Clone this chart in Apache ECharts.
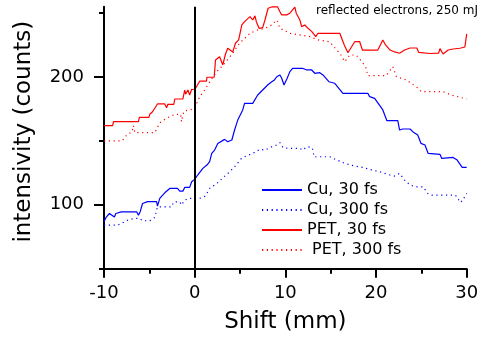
<!DOCTYPE html>
<html>
<head>
<meta charset="utf-8">
<script src="https://cdn.jsdelivr.net/npm/echarts@6/dist/echarts.min.js"></script>
<style>
html,body{margin:0;padding:0;background:#fff;}
#chart{width:481px;height:337px;}
</style>
</head>
<body>
<div id="chart"></div>
<script>
var seriesNames = ['Cu, 30 fs', 'Cu, 300 fs', 'PET, 30 fs', ' PET, 300 fs'];
var xTicks = [-10, 0, 10, 20, 30];
var yLabelTicks = [100, 200];
var yMinorTicks = [50, 150, 250];

var cu30 = [[-10.0,86.7],[-9.75,90.4],[-9.4,93.2],[-8.85,90.4],[-8.7,93.2],[-8.1,94.5],[-6.4,94.5],[-6.2,91.9],[-6.0,94.8],[-5.75,101.0],[-5.2,102.5],[-4.2,102.5],[-4.1,99.0],[-3.85,105.0],[-3.3,109.4],[-2.75,112.8],[-1.9,112.8],[-1.65,110.7],[-1.3,110.7],[-1.1,113.6],[-0.55,113.6],[-0.33,118.0],[0.0,119.9],[0.33,123.3],[0.9,128.5],[1.35,131.1],[1.65,133.7],[1.88,140.2],[2.2,142.8],[2.55,148.0],[3.3,151.2],[3.65,149.3],[4.1,150.7],[4.4,158.5],[4.75,166.3],[5.3,174.2],[5.5,179.4],[6.4,179.4],[6.95,185.9],[7.5,189.8],[8.05,193.7],[8.5,196.3],[8.8,197.7],[9.05,200.2],[9.4,201.6],[9.6,199.0],[9.85,193.7],[10.2,199.0],[10.5,204.2],[10.8,206.8],[11.9,206.8],[12.35,205.5],[12.9,205.5],[13.25,202.9],[13.8,203.4],[14.15,201.6],[14.8,196.3],[15.45,195.1],[16.35,187.2],[19.1,187.2],[19.3,184.6],[19.85,183.3],[20.75,174.2],[21.2,165.8],[22.4,165.8],[22.6,158.5],[22.95,159.3],[23.75,159.3],[24.05,157.2],[24.6,154.6],[24.95,148.1],[25.4,146.8],[25.75,140.2],[27.05,139.5],[27.25,136.3],[28.5,137.1],[28.95,135.0],[29.5,129.3],[30.0,129.3]];

var cu300 = [[-10.0,84.1],[-8.5,84.1],[-7.95,85.9],[-7.2,88.6],[-6.4,89.4],[-6.1,89.4],[-5.75,87.5],[-4.95,87.5],[-4.4,90.1],[-4.2,91.1],[-4.1,98.4],[-2.55,98.4],[-2.3,102.3],[-1.65,102.3],[-1.45,99.8],[-1.1,103.7],[-0.55,105.0],[0.55,105.0],[1.1,106.5],[1.35,108.9],[1.65,112.8],[2.45,116.8],[3.1,121.0],[3.85,125.8],[4.5,130.5],[5.15,136.3],[5.5,137.6],[6.4,140.2],[7.2,143.4],[7.75,142.8],[8.5,145.4],[9.05,146.8],[9.4,148.6],[9.75,144.6],[10.3,144.2],[11.6,144.2],[11.9,142.8],[12.35,145.4],[12.9,145.0],[13.05,142.8],[13.15,137.6],[14.9,137.6],[15.7,135.0],[16.55,132.4],[17.65,130.3],[18.55,129.3],[19.3,127.7],[20.4,125.8],[21.55,123.3],[22.05,122.5],[22.6,124.6],[23.15,119.3],[23.75,115.4],[24.5,114.1],[25.2,114.1],[25.75,108.4],[26.15,107.6],[28.7,107.6],[28.95,106.3],[29.25,101.9],[29.5,103.0],[30.0,108.9]];

var pet30 = [[-10.0,161.9],[-9.05,161.9],[-8.95,165.0],[-6.2,165.0],[-6.1,168.4],[-5.05,168.4],[-4.95,170.8],[-4.65,172.8],[-4.1,178.9],[-3.3,178.9],[-3.1,176.0],[-2.95,178.6],[-2.3,178.6],[-2.2,182.8],[-1.3,182.8],[-1.1,189.8],[-1.0,186.5],[-0.75,189.8],[-0.55,185.9],[-0.33,190.4],[0.0,190.0],[0.55,196.7],[1.3,196.7],[1.35,199.8],[2.15,199.8],[2.3,213.3],[2.75,215.9],[3.1,209.4],[3.4,218.0],[3.65,222.5],[4.2,219.6],[4.5,226.4],[4.85,229.0],[5.2,240.7],[5.5,243.3],[6.1,247.2],[6.4,244.6],[6.65,247.8],[6.8,243.3],[7.1,238.1],[7.5,238.6],[7.75,244.6],[8.1,253.8],[8.5,254.8],[9.15,254.8],[9.4,251.1],[9.6,248.6],[10.15,248.6],[10.5,249.9],[11.05,254.6],[11.2,249.9],[11.6,244.6],[11.8,239.4],[12.15,240.7],[12.5,238.1],[12.9,235.7],[13.05,234.2],[13.35,231.6],[13.6,234.2],[16.0,234.2],[16.5,225.0],[16.9,219.0],[17.1,218.6],[17.65,227.6],[18.2,227.6],[18.5,221.1],[20.2,221.1],[20.75,229.0],[21.05,225.1],[21.55,221.1],[22.05,219.6],[22.6,218.6],[23.15,221.1],[23.75,222.7],[24.5,222.7],[24.7,219.3],[25.95,218.4],[26.9,218.6],[27.05,222.2],[27.4,218.0],[27.95,221.1],[28.5,221.9],[29.25,222.5],[29.8,223.5],[30.0,233.7]];

var pet300 = [[-10.0,150.0],[-8.0,150.0],[-7.5,154.6],[-6.9,157.2],[-6.75,162.0],[-6.6,156.4],[-4.4,156.4],[-3.85,164.2],[-3.1,167.7],[-2.2,170.8],[-1.55,170.8],[-1.45,165.0],[-1.3,170.8],[-1.1,173.6],[-0.55,174.2],[0.0,175.5],[0.55,184.6],[1.1,189.8],[1.65,196.0],[2.3,203.0],[3.3,210.7],[4.2,218.6],[4.95,226.4],[6.1,234.2],[6.95,236.8],[7.75,238.1],[8.5,240.7],[9.05,244.6],[9.4,238.1],[10.5,234.2],[11.6,232.9],[12.7,231.6],[13.6,229.0],[14.9,227.6],[15.65,221.1],[16.0,218.8],[16.55,212.0],[16.75,210.5],[17.1,217.2],[17.8,217.2],[18.45,212.0],[18.9,207.0],[19.1,201.0],[21.1,201.0],[21.85,208.1],[22.25,200.2],[23.35,197.7],[24.6,191.4],[25.0,188.5],[27.4,188.5],[28.3,185.9],[29.0,184.6],[30.0,182.8]];

var FONT = 'DejaVu Sans';
var chart = echarts.init(document.getElementById('chart'), null, {renderer: 'canvas'});

function mkSeries(name, data, color, dotted, extra) {
  var s = {
    name: name,
    type: 'line',
    data: data,
    symbol: 'none',
    showSymbol: false,
    animation: false,
    z: 3,
    lineStyle: {color: color, width: dotted ? 1.2 : 1.2, type: dotted ? [1.2, 3.6] : 'solid'},
    itemStyle: {color: color}
  };
  if (extra) { for (var k in extra) s[k] = extra[k]; }
  return s;
}

var option = {
  animation: false,
  backgroundColor: '#fff',
  title: {
    text: 'reflected electrons, 250 mJ',
    right: 3, top: 5, padding: 0,
    textStyle: {fontFamily: FONT, fontSize: 12, fontWeight: 'normal', color: '#000'}
  },
  legend: {
    orient: 'vertical',
    left: 261, top: 182, padding: 0,
    itemWidth: 40, itemHeight: 14, itemGap: 4,
    data: seriesNames,
    itemStyle: {opacity: 0},
    textStyle: {fontFamily: FONT, fontSize: 16, color: '#000'}
  },
  grid: {left: 104, right: 14.3, top: 6.7, bottom: 68.3, outerBoundsMode: 'none'},
  xAxis: {
    type: 'value', min: -10, max: 30, interval: 10,
    name: 'Shift (mm)', nameLocation: 'middle', nameGap: 42,
    nameTextStyle: {fontFamily: FONT, fontSize: 23, color: '#000'},
    axisLine: {onZero: false, lineStyle: {color: '#000', width: 2}},
    axisTick: {show: true, length: 9, lineStyle: {color: '#000', width: 2}},
    minorTick: {show: true, splitNumber: 2, length: 5, lineStyle: {color: '#000', width: 2}},
    axisLabel: {fontFamily: FONT, fontSize: 18, color: '#000', margin: 16,
      customValues: xTicks},
    splitLine: {show: false}
  },
  yAxis: [{
    type: 'value', min: 50, max: 255,
    name: 'intensivity (counts)', nameLocation: 'middle', nameGap: 68,
    nameTextStyle: {fontFamily: FONT, fontSize: 23, color: '#000', padding: [0, 0, 0, 12]},
    axisLine: {show: true, onZero: false, lineStyle: {color: '#000', width: 2}},
    axisTick: {show: true, length: 10, lineStyle: {color: '#000', width: 2}, customValues: yLabelTicks},
    axisLabel: {fontFamily: FONT, fontSize: 18, color: '#000', margin: 20, customValues: yLabelTicks},
    splitLine: {show: false}
  }, {
    type: 'value', min: 50, max: 255, position: 'left', offset: 0,
    axisLine: {show: false, onZero: false},
    axisTick: {show: true, length: 5, lineStyle: {color: '#000', width: 2}, customValues: yMinorTicks},
    axisLabel: {show: false},
    splitLine: {show: false}
  }],
  series: [
    mkSeries(seriesNames[0], cu30, '#0000ff', false, {
      markLine: {
        silent: true, symbol: 'none', animation: false,
        label: {show: false},
        lineStyle: {color: '#000', width: 2, type: 'solid'},
        data: [{xAxis: 0}]
      }
    }),
    mkSeries(seriesNames[1], cu300, '#0000ff', true),
    mkSeries(seriesNames[2], pet30, '#ff0000', false),
    mkSeries(seriesNames[3], pet300, '#ff0000', true)
  ]
};
chart.setOption(option);
</script>
</body>
</html>
